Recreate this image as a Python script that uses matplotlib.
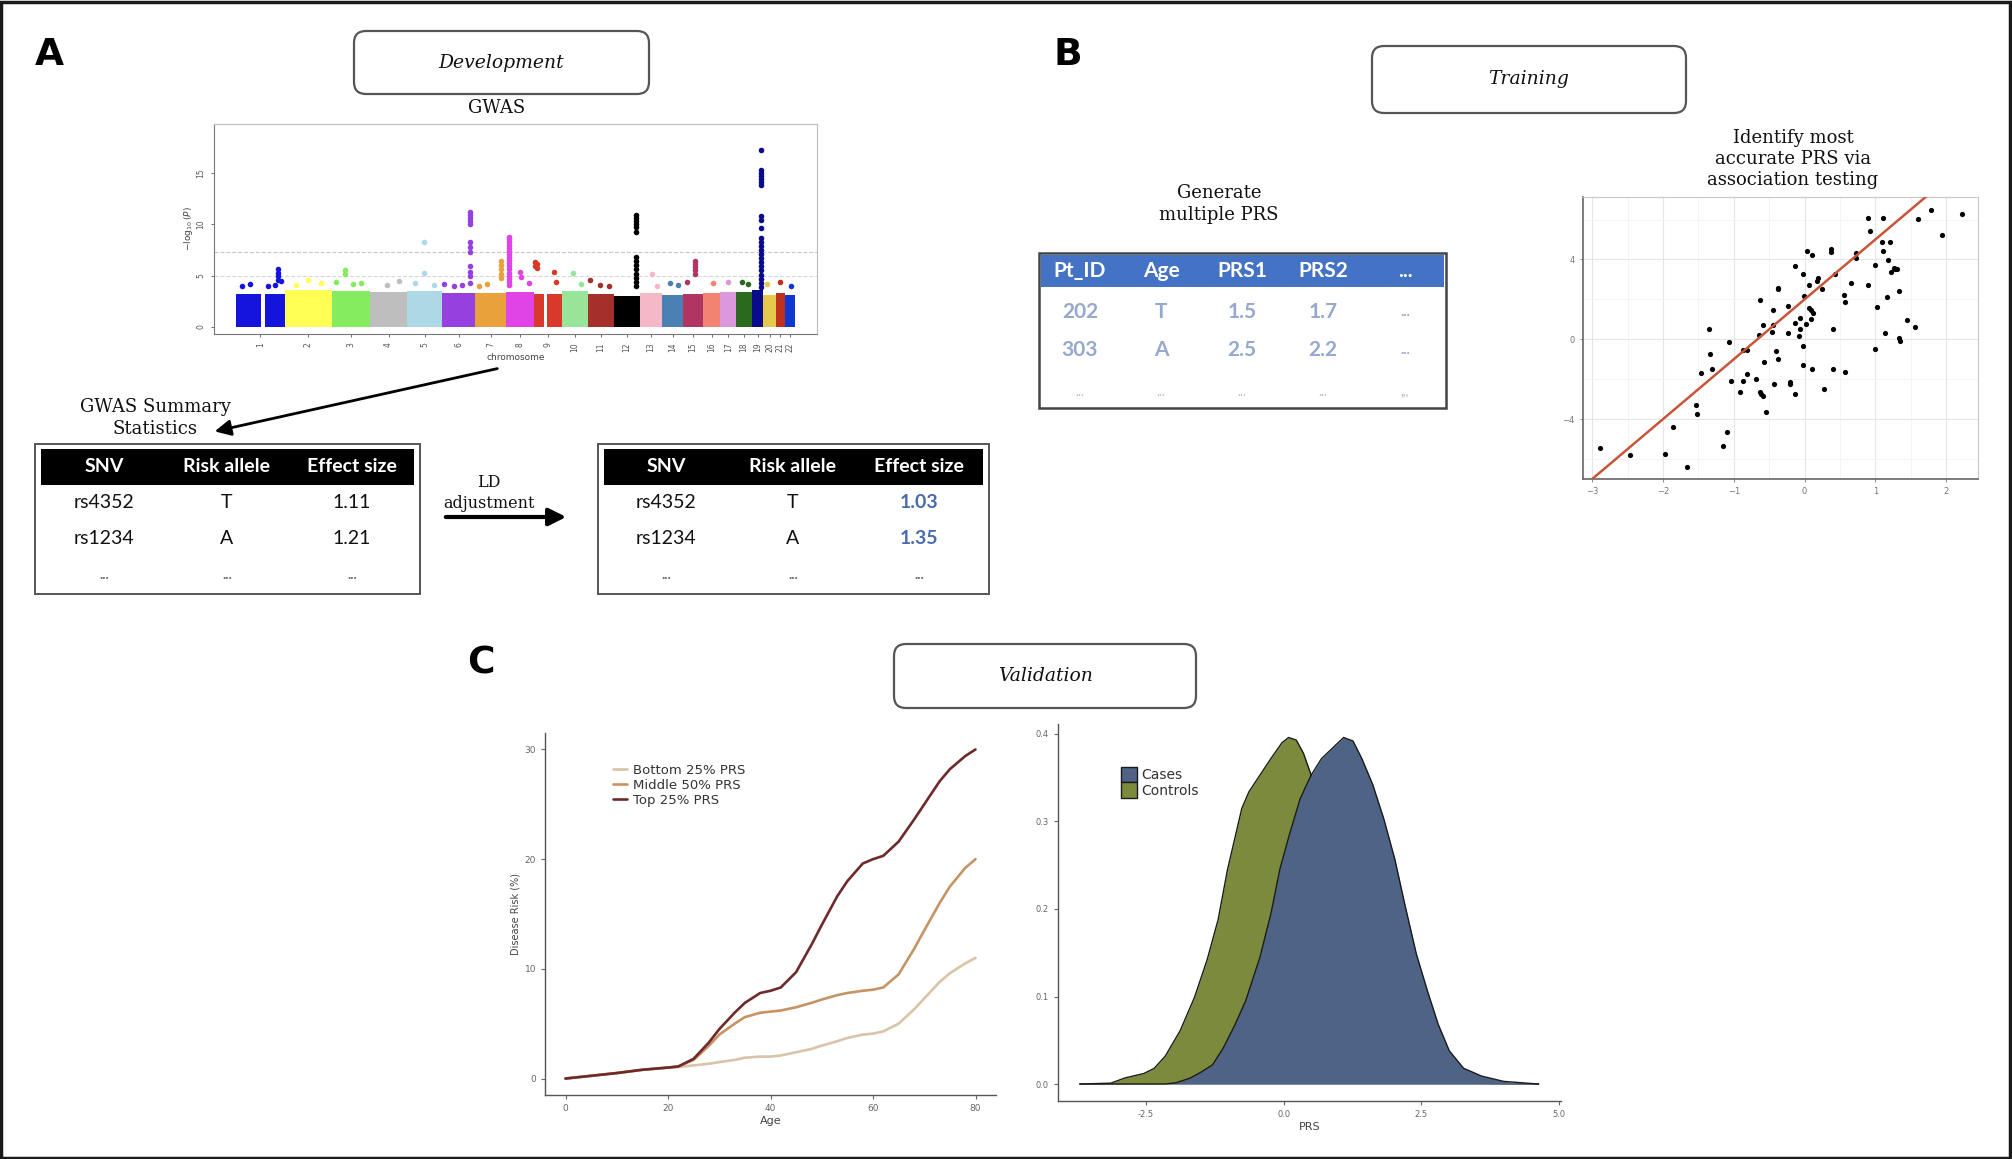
import matplotlib.pyplot as plt
import matplotlib.patches as mpatches
import numpy as np

W, H = 2012, 1159
SERIF = 'DejaVu Serif'
TSANS = 'Lato'

# ---------------- A: GWAS manhattan ----------------
chrom_names = [str(i) for i in range(1, 23)]
chrom_len = [249, 243, 198, 191, 181, 171, 159, 146, 141, 136, 135,
             133, 115, 107, 102, 90, 83, 80, 59, 64, 47, 51]
chrom_colors = ['#1414DC', '#FFFF55', '#84EC5E', '#BEBEBE', '#ADD8E6', '#9640E0',
                '#E9A23B', '#E044E6', '#D8392A', '#98E498', '#A52F2A', '#000000',
                '#F5B8C8', '#4A80B4', '#B03562', '#F28272', '#DC98DC', '#2A6A1E',
                '#0A0A8C', '#E6C84B', '#C0301E', '#1038D0']
bulk_height = [3.2, 3.6, 3.5, 3.4, 3.5, 3.3, 3.3, 3.4, 3.2, 3.5, 3.2,
               3.0, 3.3, 3.1, 3.2, 3.3, 3.4, 3.4, 3.6, 3.1, 3.3, 3.1]
centromere_gaps = {1: (128, 146), 9: (48, 66)}
# points above the dense bulk: chromosome -> [(position Mb, -log10 P)]
hits = {
    1: [(215, 5.6), (215, 5.3), (215, 5.0), (215, 4.6), (200, 4.1), (30, 4.0), (70, 4.2), (165, 4.0), (232, 4.5)],
    2: [(120, 4.6), (60, 4.1), (190, 4.3)],
    3: [(70, 5.5), (70, 5.2), (20, 4.4), (110, 4.2), (150, 4.3)],
    4: [(150, 4.5), (90, 4.1)],
    5: [(90, 8.3), (90, 5.3), (40, 4.3), (140, 4.1)],
    6: [(145, 11.2), (145, 10.9), (145, 10.6), (145, 10.3), (145, 10.0), (145, 8.3), (145, 7.8),
        (145, 7.3), (145, 5.9), (145, 5.4), (145, 5.0), (145, 4.3), (10, 4.2), (60, 4.0), (100, 4.1)],
    7: [(132, 6.4), (132, 6.0), (132, 5.6), (132, 5.2), (132, 4.8), (60, 4.2), (20, 4.0)],
    8: [(16, 8.8), (16, 8.6), (16, 8.3), (16, 8.0), (16, 7.7), (16, 7.4), (16, 7.1), (16, 6.8),
        (16, 6.5), (16, 6.2), (16, 5.9), (16, 5.6), (16, 5.3), (16, 5.0), (16, 4.7), (16, 4.4),
        (16, 4.1), (70, 5.4), (75, 4.9), (120, 4.3)],
    9: [(2, 6.3), (2, 5.9), (15, 6.1), (15, 5.7), (100, 5.4), (110, 4.4)],
    10: [(60, 5.3), (100, 4.2)],
    11: [(10, 4.6), (60, 4.1), (110, 4.0)],
    12: [(113, 10.9), (113, 10.6), (113, 10.3), (113, 10.0), (113, 9.7), (113, 9.3), (113, 6.8),
         (113, 6.4), (113, 6.0), (113, 5.6), (113, 5.2), (113, 4.8), (113, 4.4), (113, 4.0)],
    13: [(60, 5.2), (90, 4.0)],
    14: [(40, 4.3), (80, 4.1)],
    15: [(64, 6.4), (64, 6.1), (64, 5.8), (64, 5.5), (64, 5.2), (20, 4.4)],
    16: [(50, 4.3)],
    17: [(40, 4.4)],
    18: [(30, 4.4), (60, 4.2)],
    19: [(49, 17.3), (49, 15.3), (49, 15.0), (49, 14.7), (49, 14.4), (49, 14.1), (49, 13.8),
         (49, 10.8), (49, 10.4), (49, 9.6), (49, 8.7), (49, 8.3), (49, 7.9), (49, 7.5), (49, 7.1),
         (49, 6.7), (49, 6.3), (49, 5.9), (49, 5.5), (49, 5.1), (49, 4.7), (49, 4.3), (49, 3.9)],
    20: [(20, 4.2)],
    21: [(20, 4.4)],
    22: [(30, 4.0)],
}
gw_line = 7.3
suggest_line = 5.0

gwas_cols = ['SNV', 'Risk allele', 'Effect size']
gwas_rows = [['rs4352', 'T', '1.11'], ['rs1234', 'A', '1.21']]
ld_rows = [['rs4352', 'T', '1.03'], ['rs1234', 'A', '1.35']]

# ---------------- B: training ----------------
prs_cols = ['Pt_ID', 'Age', 'PRS1', 'PRS2', '...']
prs_rows = [['202', 'T', '1.5', '1.7', '...'], ['303', 'A', '2.5', '2.2', '...']]
prs_last = ['...', '...', '...', '...', ',,,']

prs_x = [-2.89, -2.47, -1.97, -1.86, -1.66, -1.54, -1.52, -1.47, -1.35, -1.33, -1.31, -1.15,
         -1.09, -1.07, -1.04, -0.91, -0.87, -0.87, -0.81, -0.81, -0.68, -0.65, -0.63, -0.63,
         -0.61, -0.59, -0.59, -0.58, -0.55, -0.46, -0.45, -0.44, -0.43, -0.40, -0.38, -0.38,
         -0.37, -0.24, -0.23, -0.21, -0.20, -0.14, -0.14, -0.13, -0.08, -0.06, -0.06, -0.02,
         -0.02, -0.02, -0.01, 0.02, 0.03, 0.06, 0.06, 0.09, 0.09, 0.10, 0.10, 0.12, 0.17,
         0.19, 0.24, 0.27, 0.37, 0.37, 0.40, 0.40, 0.43, 0.56, 0.57, 0.57, 0.66, 0.73, 0.73,
         0.89, 0.90, 0.92, 0.99, 1.00, 1.03, 1.11, 1.10, 1.11, 1.14, 1.17, 1.18, 1.21, 1.22,
         1.26, 1.28, 1.30, 1.34, 1.34, 1.35, 1.45, 1.56, 1.60, 1.79, 1.94, 2.23]
trait_y = [-5.47, -5.80, -5.75, -4.38, -6.38, -3.28, -3.72, -1.70, 0.50, -0.75, -1.47, -5.37,
           -4.67, -0.13, -2.08, -2.63, -2.08, -0.53, -0.53, -1.75, -1.97, 0.20, 1.97, -2.63,
           -2.75, -2.83, 0.70, -1.12, -3.63, 0.37, 0.70, 1.45, -2.22, -0.58, -1.00, 2.50,
           2.58, 1.67, 0.30, -2.13, -2.22, -2.75, 3.67, 0.83, 0.17, 1.05, 0.53, 3.28,
           -0.33, -1.28, 2.17, 0.75, 4.42, 2.70, 1.55, 1.45, 1.00, -1.50, 4.22, 1.30, 2.92,
           3.08, 2.50, -2.50, 4.37, 4.50, 0.53, -1.47, 3.25, 2.20, 1.87, -1.62, 2.80, 4.30, 4.05,
           6.08, 2.72, 5.45, -0.47, 3.70, 1.62, 6.08, 4.87, 4.42, 0.30, 2.13, 3.95, 4.87, 3.38,
           3.58, 3.53, 3.53, 2.42, 0.05, -0.08, 0.97, 0.62, 6.03, 6.50, 5.22, 6.30]
fit_slope, fit_intercept = 3.0, 2.0

# ---------------- C: validation ----------------
age = [0, 5, 10, 15, 20, 22, 25, 28, 30, 33, 35, 38, 40, 42, 45, 48, 50, 53, 55, 58, 60, 62, 65, 68, 70, 73, 75, 78, 80]
risk_top = [0, 0.25, 0.5, 0.8, 1.0, 1.1, 1.8, 3.3, 4.5, 6.0, 6.9, 7.8, 8.0, 8.3, 9.7, 12.2, 14.0, 16.6, 18.0, 19.6, 20.0, 20.3, 21.6, 23.6, 25.0, 27.1, 28.2, 29.4, 30.0]
risk_mid = [0, 0.25, 0.5, 0.8, 1.0, 1.1, 1.7, 3.0, 4.0, 5.0, 5.6, 6.0, 6.1, 6.2, 6.5, 6.9, 7.2, 7.6, 7.8, 8.0, 8.1, 8.3, 9.5, 11.8, 13.5, 16.0, 17.5, 19.2, 20.0]
risk_bot = [0, 0.25, 0.5, 0.8, 1.0, 1.05, 1.2, 1.35, 1.5, 1.7, 1.9, 2.0, 2.0, 2.1, 2.4, 2.7, 3.0, 3.4, 3.7, 4.0, 4.1, 4.3, 5.0, 6.3, 7.3, 8.8, 9.6, 10.5, 11.0]
risk_labels = ['Bottom 25% PRS', 'Middle 50% PRS', 'Top 25% PRS']
risk_colors = ['#D9C4A8', '#C69464', '#6E2A2A']

ctrl_x = [-3.70, -3.14, -2.88, -2.54, -2.35, -2.15, -1.88, -1.62, -1.39, -1.19, -1.02, -0.89,
          -0.76, -0.63, -0.43, -0.23, -0.03, 0.09, 0.23, 0.36, 0.50, 0.75, 1.00, 1.30, 1.60,
          2.00, 2.40, 2.80, 3.30, 3.80, 4.63]
ctrl_y = [0.000, 0.001, 0.007, 0.012, 0.018, 0.032, 0.061, 0.099, 0.142, 0.188, 0.245, 0.280,
          0.315, 0.334, 0.353, 0.372, 0.390, 0.396, 0.393, 0.378, 0.353, 0.300, 0.245, 0.175,
          0.115, 0.055, 0.022, 0.008, 0.002, 0.0005, 0.000]
case_x = [-3.70, -2.60, -2.15, -1.95, -1.69, -1.49, -1.29, -1.09, -0.89, -0.69, -0.43, -0.23,
          -0.07, 0.10, 0.30, 0.50, 0.69, 0.89, 1.09, 1.26, 1.42, 1.62, 1.82, 2.02, 2.21, 2.41,
          2.61, 2.81, 3.01, 3.27, 3.60, 4.00, 4.63]
case_y = [0.000, 0.000, 0.000, 0.0015, 0.007, 0.014, 0.022, 0.042, 0.067, 0.095, 0.145, 0.195,
          0.245, 0.284, 0.326, 0.353, 0.372, 0.384, 0.396, 0.392, 0.372, 0.342, 0.303, 0.257,
          0.203, 0.149, 0.107, 0.068, 0.038, 0.018, 0.009, 0.003, 0.000]
case_color = '#4E6385'
ctrl_color = '#7C8A3E'


fig = plt.figure(figsize=(W / 100, H / 100), dpi=100)
ax0 = fig.add_axes([0, 0, 1, 1])
ax0.set_xlim(0, W)
ax0.set_ylim(H, 0)
ax0.axis('off')


def px_axes(x0, y0, x1, y1):
    return fig.add_axes([x0 / W, 1 - y1 / H, (x1 - x0) / W, (y1 - y0) / H])


def gg_classic(ax, fs=6.5):
    for s in ['top', 'right']:
        ax.spines[s].set_visible(False)
    for s in ['left', 'bottom']:
        ax.spines[s].set_color('#555555')
        ax.spines[s].set_linewidth(1.0)
    ax.tick_params(colors='#666666', labelsize=fs, length=3, width=0.8)


# outer frame
ax0.add_patch(mpatches.Rectangle((1.5, 1.5), W - 3, H - 3, fill=False, ec='#1a1a1a', lw=2.5))

# panel letters
for letter, (x, y) in {'A': (49, 55), 'B': (1068, 55), 'C': (481, 663)}.items():
    ax0.text(x, y, letter, fontsize=27, fontweight='bold', ha='center', va='center', family='DejaVu Sans')

# stage boxes
for label, (x0, y0, x1, y1) in {'Development': (354, 31, 649, 94),
                                'Training': (1372, 46, 1686, 113),
                                'Validation': (894, 644, 1196, 708)}.items():
    ax0.add_patch(mpatches.FancyBboxPatch((x0, y0), x1 - x0, y1 - y0,
                                          boxstyle='round,pad=0,rounding_size=12',
                                          fc='white', ec='#555555', lw=1.6))
    ax0.text((x0 + x1) / 2, (y0 + y1) / 2, label, fontsize=13.5, style='italic',
             family=SERIF, ha='center', va='center', color='#111111')

# ============================================================
# PANEL A
# ============================================================
ax0.text(497, 108, 'GWAS', fontsize=13, family=SERIF, ha='center', va='center', color='#111111')

axm = px_axes(214, 124, 817, 334)
offsets = np.concatenate([[0], np.cumsum(chrom_len)[:-1]])
for i, c in enumerate(chrom_names):
    axm.bar(offsets[i], bulk_height[i], width=chrom_len[i], align='edge',
            color=chrom_colors[i], linewidth=0, zorder=2)
    if i + 1 in centromere_gaps:
        g0, g1 = centromere_gaps[i + 1]
        axm.bar(offsets[i] + g0, bulk_height[i] + 0.3, width=g1 - g0, align='edge',
                color='white', linewidth=0, zorder=2)
    pts = hits.get(i + 1, [])
    if pts:
        px = [offsets[i] + p for p, v in pts]
        py = [v for p, v in pts]
        axm.scatter(px, py, s=16, color=chrom_colors[i], zorder=3, linewidths=0)
axm.axhline(gw_line, color='#C8C8C8', lw=0.8, ls='--', zorder=1)
axm.axhline(suggest_line, color='#D8D8D8', lw=0.8, ls='--', zorder=1)
axm.set_xlim(-115, sum(chrom_len) + 115)
axm.set_ylim(-0.7, 19.8)
axm.set_xticks(offsets + np.array(chrom_len) / 2)
axm.set_xticklabels(chrom_names, rotation=90)
axm.set_yticks([0, 5, 10, 15])
axm.set_yticklabels(['0', '5', '10', '15'], rotation=90, va='center')
axm.tick_params(colors='#555555', labelsize=5.5, length=2.5, width=0.6)
for s in axm.spines.values():
    s.set_color('#BBBBBB')
    s.set_linewidth(0.8)
axm.spines['left'].set_color('#777777')
axm.spines['bottom'].set_color('#777777')
axm.set_xlabel('chromosome', fontsize=6.5, color='#444444', labelpad=1)
axm.set_ylabel(r'$-\log_{10}(P)$', fontsize=6.5, color='#444444', labelpad=1)

# arrow manhattan -> summary statistics
ax0.annotate('', xy=(212, 432), xytext=(500, 368),
             arrowprops=dict(arrowstyle='-|>', color='black', lw=2, mutation_scale=24))
ax0.text(155, 418, 'GWAS Summary\nStatistics', fontsize=13, family=SERIF, ha='center',
         va='center', color='#111111', linespacing=1.25)

# LD adjustment arrow
ax0.annotate('', xy=(569, 517), xytext=(443, 517),
             arrowprops=dict(arrowstyle='-|>', color='black', lw=3, mutation_scale=26))
ax0.text(489, 493, 'LD\nadjustment', fontsize=11.5, family=SERIF, ha='center',
         va='center', color='#111111', linespacing=1.25)


def snv_table(x0, x1, col_x, rows, value_color):
    ax0.add_patch(mpatches.Rectangle((x0, 444), x1 - x0, 150, fill=False, ec='#555555', lw=1.4))
    ax0.add_patch(mpatches.Rectangle((x0 + 6, 449), x1 - x0 - 12, 36, fc='black', ec='none'))
    for cx, name in zip(col_x, gwas_cols):
        ax0.text(cx, 467, name, fontsize=14, fontweight='bold', family=TSANS,
                 color='white', ha='center', va='center')
    for ry, row in zip([503, 538], rows):
        for j, (cx, val) in enumerate(zip(col_x, row)):
            col = value_color if j == 2 else '#111111'
            fw = 'bold' if j == 2 and value_color != '#111111' else 'normal'
            ax0.text(cx, ry, val, fontsize=14, family=TSANS, color=col, fontweight=fw,
                     ha='center', va='center')
    for cx in col_x:
        ax0.text(cx, 575, '...', fontsize=10, fontweight='bold', family=TSANS, color='#666666',
                 ha='center', va='center')


snv_table(35, 420, [104, 227, 352], gwas_rows, '#111111')
snv_table(598, 989, [666, 793, 919], ld_rows, '#4A6AB0')

# ============================================================
# PANEL B
# ============================================================
ax0.text(1219, 204, 'Generate\nmultiple PRS', fontsize=13, family=SERIF, ha='center',
         va='center', color='#111111', linespacing=1.25)
ax0.add_patch(mpatches.Rectangle((1039, 253), 407, 155, fill=False, ec='#444444', lw=1.8))
ax0.add_patch(mpatches.Rectangle((1041, 255), 403, 32, fc='#4472C4', ec='none'))
prs_col_x = [1080, 1161, 1242, 1323, 1405]
for cx, name in zip(prs_col_x, prs_cols):
    ax0.text(cx, 271, name, fontsize=15, fontweight='bold', family=TSANS,
             color='white', ha='center', va='center')
for ry, row in zip([312, 350], prs_rows):
    for j, (cx, val) in enumerate(zip(prs_col_x, row)):
        ax0.text(cx, ry, val, fontsize=15 if j < 4 else 10, fontweight='bold', family=TSANS,
                 color='#96A8CE', ha='center', va='center')
for cx, val in zip(prs_col_x, prs_last):
    ax0.text(cx, 392, val, fontsize=9, family=TSANS, color='#AEB8D0', ha='center', va='center')

ax0.text(1793, 159, 'Identify most\naccurate PRS via\nassociation testing', fontsize=13,
         family=SERIF, ha='center', va='center', color='#111111', linespacing=1.2)

axs = px_axes(1583, 197, 1978, 479)
axs.scatter(prs_x, trait_y, s=14, color='black', zorder=3, linewidths=0)
fx = np.array([-3.2, 2.6])
axs.plot(fx, fit_intercept + fit_slope * fx, color='#C8553A', lw=1.8, zorder=4)
axs.set_xlim(-3.13, 2.45)
axs.set_ylim(-7.0, 7.13)
axs.set_xticks([-3, -2, -1, 0, 1, 2])
axs.set_yticks([-4, 0, 4])
axs.set_xticks([-2.5, -1.5, -0.5, 0.5, 1.5], minor=True)
axs.set_yticks([-6, -2, 2, 6], minor=True)
axs.grid(True, which='major', color='#E6E6E6', lw=0.8)
axs.grid(True, which='minor', color='#F3F3F3', lw=0.6)
axs.set_axisbelow(True)
axs.tick_params(which='major', colors='#777777', labelsize=6, length=2.5, width=0.6)
axs.tick_params(which='minor', length=0)
for s in axs.spines.values():
    s.set_color('#C8C8C8')
    s.set_linewidth(0.8)
axs.spines['left'].set_color('#666666')
axs.spines['bottom'].set_color('#666666')
axs.spines['left'].set_linewidth(1.2)
axs.spines['bottom'].set_linewidth(1.2)

# ============================================================
# PANEL C
# ============================================================
axl = px_axes(545, 733, 996, 1095)
for vals, lab, col in zip([risk_bot, risk_mid, risk_top], risk_labels, risk_colors):
    axl.plot(age, vals, color=col, lw=1.9, label=lab, solid_capstyle='round',
             solid_joinstyle='round')
axl.set_xlim(-4, 84)
axl.set_ylim(-1.5, 31.5)
axl.set_xticks([0, 20, 40, 60, 80])
axl.set_yticks([0, 10, 20, 30])
gg_classic(axl)
axl.set_xlabel('Age', fontsize=8, color='#444444', labelpad=2)
axl.set_ylabel('Disease Risk (%)', fontsize=7, color='#444444', labelpad=3)
axl.legend(loc='upper left', bbox_to_anchor=(0.14, 0.93), frameon=False, fontsize=9.5,
           handlelength=1.0, handletextpad=0.5, labelspacing=0.15, borderaxespad=0,
           labelcolor='#333333')

axd = px_axes(1058, 724, 1561, 1101)
axd.fill_between(ctrl_x, 0, ctrl_y, color=ctrl_color, lw=0, zorder=2)
axd.plot(ctrl_x, ctrl_y, color='#1a1a1a', lw=1.0, zorder=2, solid_joinstyle='round')
axd.fill_between(case_x, 0, case_y, color=case_color, lw=0, zorder=3)
axd.plot(case_x, case_y, color='#1a1a1a', lw=1.0, zorder=3, solid_joinstyle='round')
axd.set_xlim(-4.1, 5.04)
axd.set_ylim(-0.0194, 0.4114)
axd.set_xticks([-2.5, 0, 2.5, 5.0])
axd.set_xticklabels(['-2.5', '0.0', '2.5', '5.0'])
axd.set_yticks([0, 0.1, 0.2, 0.3, 0.4])
axd.set_yticklabels(['0.0', '0.1', '0.2', '0.3', '0.4'])
gg_classic(axd, fs=6)
axd.set_xlabel('PRS', fontsize=8, color='#444444', labelpad=2)
handles = [mpatches.Patch(fc=case_color, ec='#1a1a1a', lw=1, label='Cases'),
           mpatches.Patch(fc=ctrl_color, ec='#1a1a1a', lw=1, label='Controls')]
axd.legend(handles=handles, loc='upper left', bbox_to_anchor=(0.115, 0.90), frameon=False,
           fontsize=10, handlelength=1.1, handleheight=1.3, handletextpad=0.3,
           labelspacing=0.0, borderaxespad=0, labelcolor='#333333')

fig.savefig('out.png', dpi=100)
